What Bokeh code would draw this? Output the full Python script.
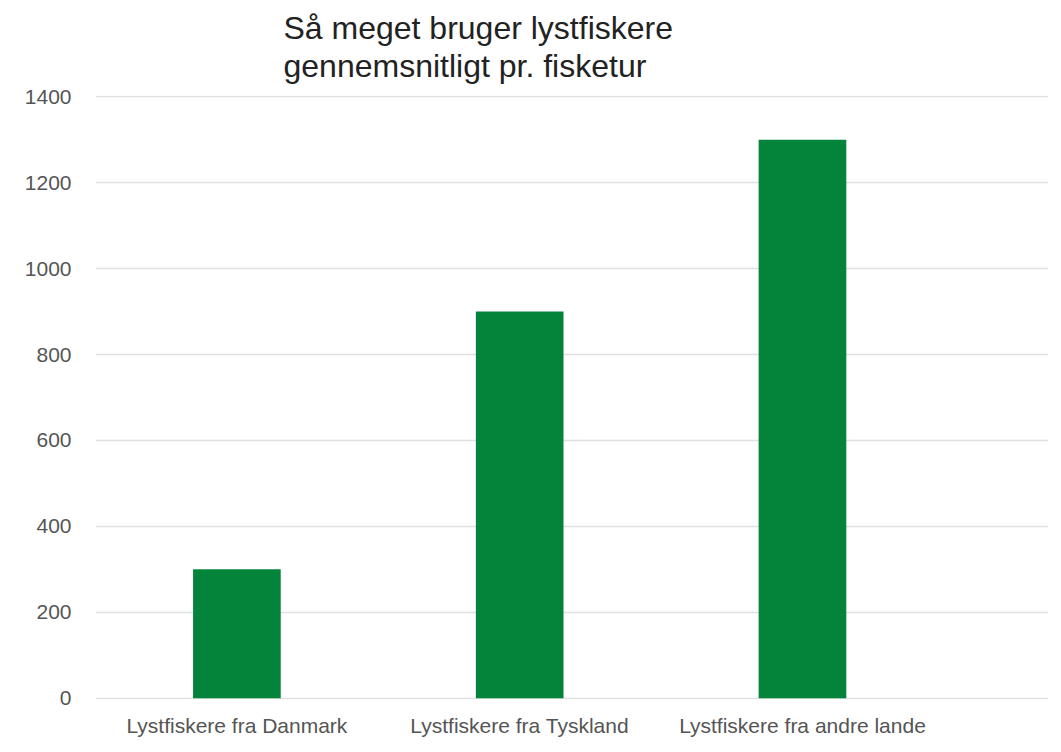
from bokeh.plotting import figure
from bokeh.models import Range1d, FixedTicker, Title
from bokeh.embed import file_html
from bokeh.resources import INLINE

categories = ["Lystfiskere fra Danmark", "Lystfiskere fra Tyskland", "Lystfiskere fra andre lande"]
values = [300, 900, 1300]
y_ticks = [0, 200, 400, 600, 800, 1000, 1200, 1400]
title_text = "Så meget bruger lystfiskere\ngennemsnitligt pr. fisketur"

FONT = "Liberation Sans"
positions = [i + 0.5 for i in range(len(categories))]

FH = 604
p = figure(frame_width=953, frame_height=FH, output_backend="svg", toolbar_location=None,
           x_range=Range1d(0, 3.37), y_range=Range1d(-3, 1403),
           min_border_left=95, min_border_right=0, min_border_top=0, min_border_bottom=0)
p.outline_line_color = None
p.background_fill_color = "white"
p.border_fill_color = "white"

p.vbar(x=positions, top=values, width=0.31, bottom=0, fill_color="#03843A", line_color=None)

# invisible spacer between the title and the plot area
spacer = Title(text=".", text_font=FONT, text_font_size="10px", text_alpha=0.0,
               standoff=1, vertical_align="bottom")
p.add_layout(spacer, "above")

t = Title(text=title_text, text_font=FONT, text_font_size="32px", text_font_style="normal",
          text_color="#222222", align="left", offset=188, standoff=18,
          vertical_align="top", text_line_height=1.08)
p.add_layout(t, "above")

p.xgrid.grid_line_color = None
p.ygrid.grid_line_color = "#e0e0e0"
p.ygrid.grid_line_width = 1.5
p.yaxis.ticker = FixedTicker(ticks=y_ticks)
p.yaxis.axis_line_color = None
p.yaxis.major_tick_line_color = None
p.yaxis.minor_tick_line_color = None
p.yaxis.major_label_text_font = FONT
p.yaxis.major_label_text_font_size = "21px"
p.yaxis.major_label_text_color = "#555555"
p.yaxis.major_label_standoff = 18

p.xaxis.ticker = FixedTicker(ticks=positions)
p.xaxis.major_label_overrides = {pos: c for pos, c in zip(positions, categories)}
p.xaxis.axis_line_color = None
p.xaxis.major_tick_line_color = None
p.xaxis.minor_tick_line_color = None
p.xaxis.major_label_text_font = FONT
p.xaxis.major_label_text_font_size = "21px"
p.xaxis.major_label_text_color = "#555555"
p.xaxis.major_label_standoff = 8

open("out.html", "w").write(file_html(p, INLINE))
